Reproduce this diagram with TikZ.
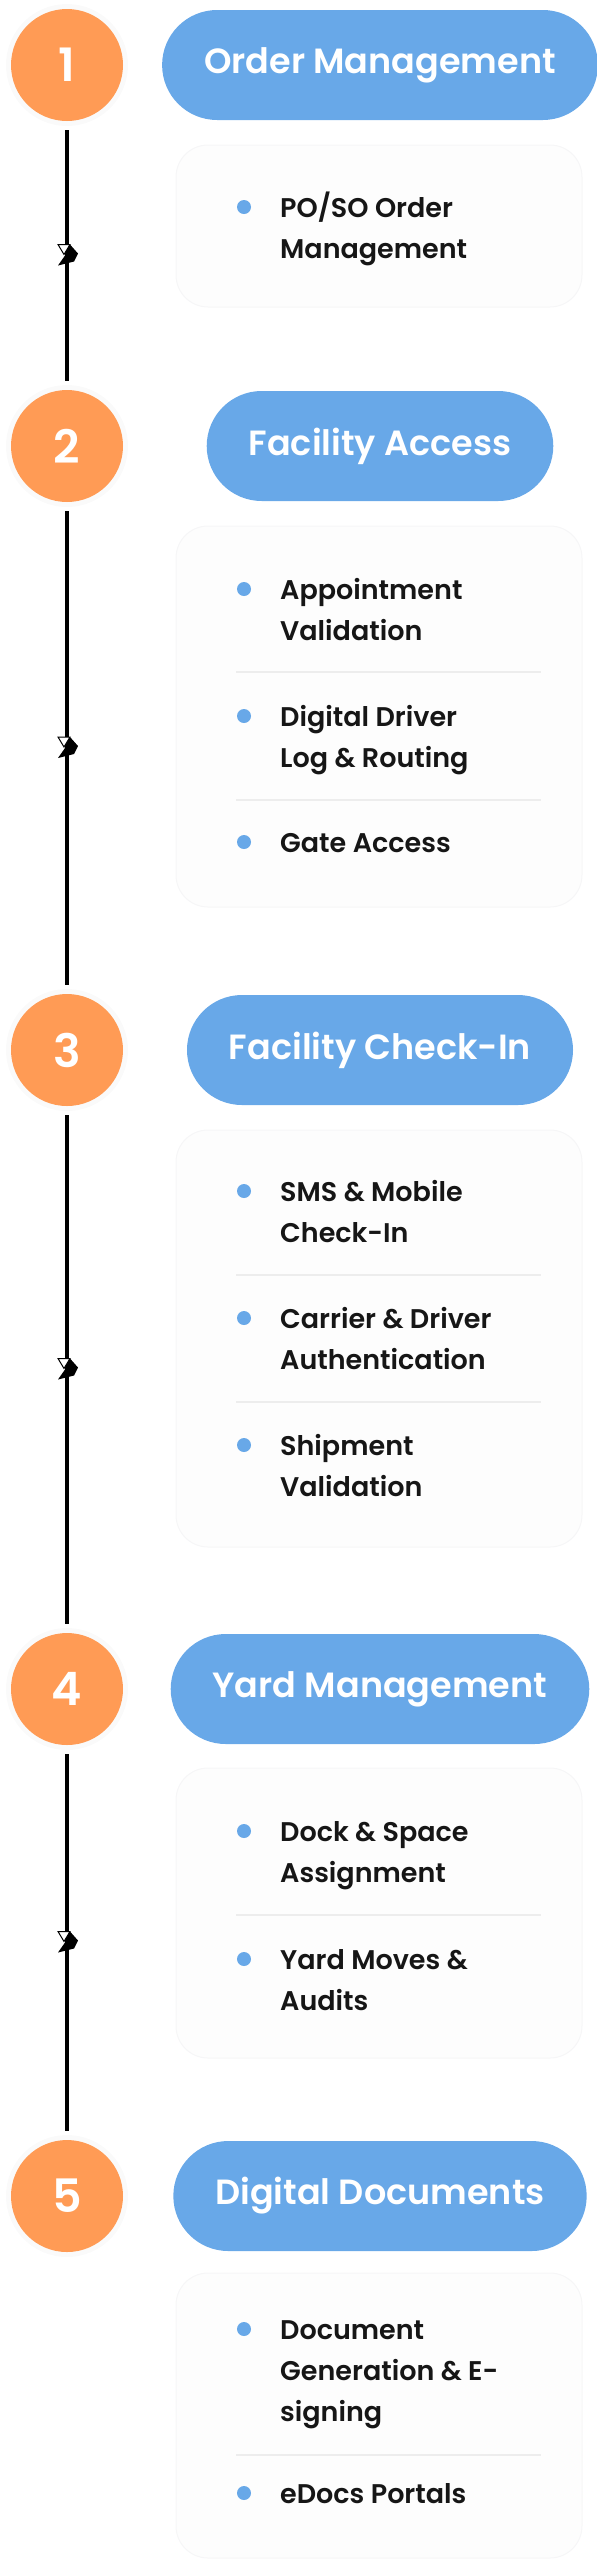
\documentclass[tikz,border=0pt]{standalone}
\usepackage{fontspec}
\setmainfont{Poppins SemiBold}
\usetikzlibrary{positioning}
\definecolor{numorange}{HTML}{FF9B55}
\definecolor{headblue}{HTML}{68A8E8}
\definecolor{cardfill}{HTML}{FDFDFD}
\definecolor{cardline}{HTML}{F6F6F7}
\definecolor{ruleline}{HTML}{EDEDED}
\definecolor{ink}{HTML}{161616}

\begin{document}
\begin{tikzpicture}[x=1pt,y=-1pt,
  num/.style={circle,fill=numorange,text=white,minimum size=112pt,inner sep=0pt,
    preaction={draw=black!2,line width=10pt},font=\fontsize{46}{46}\selectfont},
  head/.style={fill=headblue,text=white,rounded corners=55pt,minimum height=110pt,
    inner xsep=42pt,inner ysep=0pt,font=\fontsize{35}{35}\selectfont},
  card/.style={fill=cardfill,draw=cardline,line width=1pt,rounded corners=32pt},
  dot/.style={circle,fill=headblue,minimum size=14pt,inner sep=0pt},
  item/.style={anchor=base west,inner sep=0pt,text=ink,font=\fontsize{27}{41}\selectfont},
  spine/.style={line width=3.5pt,shorten <=9pt,shorten >=9pt},
  midtip/.pic={
    \filldraw[fill=white,line width=1pt] (-9,-11) -- (3,-11) -- (-3,-1) -- cycle;
    \fill (3,-11) -- (11,-2) -- (7,6) -- (-9,10) -- (-2,0) -- cycle;
  }]
  \useasboundingbox (0,0) rectangle (597,2560);

  % cards behind the lists
  \foreach \top/\bot in {145/307,526/907,1130/1547,1768/2058,2273/2558}
    \path[card] (176,\top) rectangle (582,\bot);
  \foreach \y in {672,800,1275,1402,1915,2455}
    \draw[ruleline,line width=1.5pt] (236,\y) -- (541,\y);

  % steps
  \foreach \i/\y/\t in {1/65/Order Management,2/446/Facility Access,
      3/1050/Facility Check-In,4/1689/Yard Management,5/2196/Digital Documents}{
    \node[num] (n\i) at (67,\y) {\i};
    \node[head] (h\i) at (380,\y) {\t};
  }

  % timeline
  \foreach \a/\b in {1/2,2/3,3/4,4/5}{
    \draw[spine] (n\a) -- coordinate[pos=.5] (m\a) (n\b);
    \pic at (m\a) {midtip};
  }

  % list items
  \foreach \y/\t [count=\k] in {207/{PO/SO Order\\Management},
      589/{Appointment\\Validation},716/{Digital Driver\\Log \& Routing},842/{Gate Access},
      1191/{SMS \& Mobile\\Check-In},1318/{Carrier \& Driver\\Authentication},1445/{Shipment\\Validation},
      1831/{Dock \& Space\\Assignment},1959/{Yard Moves \&\\Audits},
      2329/{Document\\Generation \& E-\\signing},2493/{eDocs Portals}}{
    \node[dot] (d\k) at (244,\y) {};
    \node[item] (t\k) at (280,\y+10) {\parbox[t]{290pt}{\raggedright\t}};
  }
\end{tikzpicture}
\end{document}
